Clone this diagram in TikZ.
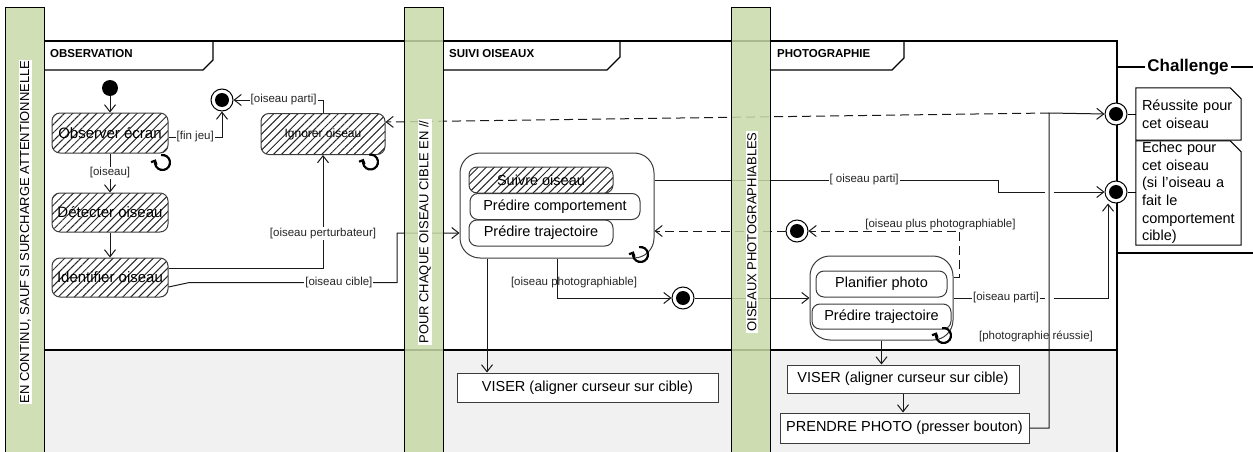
\documentclass[tikz,border=0pt]{standalone}
\usepackage{fontspec}
\setmainfont{Liberation Sans}
\usetikzlibrary{arrows.meta, patterns.meta}
\definecolor{lanegreen}{RGB}{200,217,168}
\definecolor{swimgrey}{RGB}{241,241,241}
\definecolor{boxline}{RGB}{60,60,60}

\begin{document}
\begin{tikzpicture}[x=1pt, y=-1pt]
    % Define styles
    \tikzset{
        lanebar/.style={draw, line width=1pt, fill=lanegreen, fill opacity=0.85, minimum width=38.5pt, minimum height=452pt, inner sep=0pt},
        lanelbl/.style={fill=white, rotate=90, inner sep=1pt, font=\fontsize{13}{15}\selectfont},
        hdrlbl/.style={anchor=west, inner sep=0pt, font=\fontsize{11.5}{13}\selectfont\bfseries},
        framelines/.style={line width=1.2pt},
        actbox/.style={draw=boxline, line width=1pt, rounded corners=8pt, fill=white, inner sep=0pt, font=\fontsize{14.5}{17}\selectfont},
        hatchbox/.style={actbox, pattern={Lines[angle=45, distance=5.7pt, line width=1pt]}, pattern color=black!85},
        compbox/.style={draw=boxline, line width=1pt, rounded corners=20pt, inner sep=0pt},
        plainbox/.style={draw=boxline, line width=1pt, fill=white, inner sep=0pt, font=\fontsize{14.5}{17}\selectfont},
        startdot/.style={circle, fill=black, minimum size=16pt, inner sep=0pt},
        enddot/.style={circle, draw, line width=1pt, fill=white, minimum size=22pt, inner sep=0pt, path picture={\fill[black] (path picture bounding box.center) circle (7pt);}},
        notebox/.style={inner xsep=6pt, inner ysep=0pt, text width=93pt, align=left, minimum height=#1, font=\fontsize{14.5}{17.6}\selectfont},
        flowarrow/.style={draw=black!90, line width=1pt, -{Straight Barb[length=7pt, width=11pt]}},
        guardlbl/.style={fill=white, inner sep=1pt, text=black!85, font=\fontsize{11.5}{13}\selectfont},
        loopicon/.pic={\draw[line width=2.2pt, -{Straight Barb[length=3pt, width=6pt]}] (100:7.5pt) arc (100:-205:7.5pt);}
    }
    \useasboundingbox (0,0) rectangle (1253,452);

    % Swimlane frames
    \fill[swimgrey] (44,350) rectangle (1117,460);
    \draw[framelines] (44,41) -- (1117,41) -- (1117,460);
    \draw[framelines] (44,350) -- (1117,350);
    \draw[framelines] (44,70) -- (203,70) -- (213,60) -- (213,41);
    \draw[framelines] (443,70) -- (607,70) -- (620,57) -- (620,41);
    \draw[framelines] (770,70) -- (892,70) -- (904,58) -- (904,41);
    \node[hdrlbl] (hdr_obs) at (50,54) {OBSERVATION};
    \node[hdrlbl] (hdr_suivi) at (449,54) {SUIVI OISEAUX};
    \node[hdrlbl] (hdr_photo) at (777,54) {PHOTOGRAPHIE};

    % Challenge area
    \draw[framelines] (1117,67) -- (1253,67);
    \draw[framelines] (1117,253) -- (1253,253);
    \node[fill=white, inner sep=2pt, font=\fontsize{17}{20}\selectfont\bfseries] (chal_title) at (1188,67) {Challenge};

    % Observation
    \node[startdot] (obs_start) at (110,88) {};
    \node[hatchbox, minimum width=116pt, minimum height=40pt, font=\fontsize{15}{17}\selectfont] (obs_ecran) at (110,133) {Observer écran};
    \node[hatchbox, minimum width=116pt, minimum height=39pt, font=\fontsize{15}{17}\selectfont] (obs_detect) at (110,212.5) {Détecter oiseau};
    \node[hatchbox, minimum width=116pt, minimum height=39pt, font=\fontsize{15}{17}\selectfont] (obs_ident) at (110,277.5) {Identifier oiseau};
    \node[enddot] (obs_end) at (222,100) {};
    \node[hatchbox, minimum width=124pt, minimum height=41pt, font=\fontsize{12}{14}\selectfont] (obs_ignore) at (323,134) {Ignorer oiseau};

    % Suivi oiseaux
    \node[compbox, minimum width=194pt, minimum height=105pt] (suivi_comp) at (557,205.5) {};
    \node[hatchbox, minimum width=144pt, minimum height=26pt] (suivi_oiseau) at (541,180) {Suivre oiseau};
    \node[actbox, minimum width=170pt, minimum height=26pt] (suivi_comport) at (555,206.5) {Prédire comportement};
    \node[actbox, minimum width=144pt, minimum height=26pt] (suivi_traj) at (541,233) {Prédire trajectoire};
    \node[enddot] (suivi_end) at (683,298) {};
    \node[plainbox, minimum width=261pt, minimum height=29pt] (viser_suivi) at (587.5,387.5) {VISER (aligner curseur sur cible)};

    % Photographie
    \node[compbox, minimum width=143pt, minimum height=84pt] (photo_comp) at (881.5,298) {};
    \node[actbox, minimum width=131pt, minimum height=26pt] (photo_plan) at (881.5,284) {Planifier photo};
    \node[actbox, minimum width=139pt, minimum height=25pt] (photo_traj) at (881.5,316.5) {Prédire trajectoire};
    \node[enddot] (photo_end) at (797,231) {};
    \node[plainbox, minimum width=232pt, minimum height=28pt] (viser_photo) at (903,379) {VISER (aligner curseur sur cible)};
    \node[plainbox, minimum width=249pt, minimum height=30pt] (photo_prendre) at (904.5,428) {PRENDRE PHOTO (presser bouton)};

    % Challenge outcomes
    \node[enddot] (chal_ok) at (1116,114) {};
    \node[enddot] (chal_ko) at (1116,192) {};
    \node[notebox=52pt] (note_ok) at (1188.5,114) {Réussite pour\\cet oiseau};
    \node[notebox=104pt] (note_ko) at (1188.5,193) {Echec pour\\cet oiseau\\(si l’oiseau a\\fait le\\comportement\\cible)};
    \draw[line width=1pt] (note_ok.north west) -- ([xshift=-11pt]note_ok.north east) -- ([yshift=-11pt]note_ok.north east) -- (note_ok.south east) -- (note_ok.south west) -- cycle;
    \draw[line width=1pt] (note_ko.north west) -- ([xshift=-11pt]note_ko.north east) -- ([yshift=-11pt]note_ko.north east) -- (note_ko.south east) -- (note_ko.south west) -- cycle;
    \coordinate (ok_jct) at (1049,113);

    % Transitions
    \draw[flowarrow] (obs_start) -- (obs_ecran);
    \draw[flowarrow] (obs_ecran) -- node[guardlbl] {[oiseau]} (obs_detect);
    \draw[flowarrow] (obs_detect) -- (obs_ident);
    \draw[flowarrow] ([yshift=-4pt]obs_ecran.east) -| node[guardlbl, pos=0.25] {[fin jeu]} (obs_end.south);
    \draw[flowarrow] (obs_ignore.north) |- node[guardlbl, pos=0.72] {[oiseau parti]} (obs_end.east);
    \draw[flowarrow] ([yshift=9pt]obs_ident.east) -| node[guardlbl, pos=0.655] {[oiseau perturbateur]} (obs_ignore.south);
    \draw[flowarrow] ([yshift=-9.5pt]obs_ident.east) -- ++(21,-4.5) -- node[guardlbl, pos=0.72] {[oiseau cible]} (397,282.5) |- (suivi_comp.west |- suivi_traj);
    \draw[flowarrow, dash pattern=on 9pt off 5pt] (ok_jct) -- ([yshift=12pt]obs_ignore.east);

    \draw[flowarrow] (suivi_comp.east |- suivi_oiseau) -- node[guardlbl, pos=0.61] {[ oiseau parti]} (998,180) |- (chal_ko.west);
    \draw[flowarrow] (suivi_comp.south) |- node[guardlbl, fill=none, pos=0.31, xshift=17pt] {[oiseau photographiable]} (suivi_end.west);
    \draw[flowarrow] (suivi_end) -- (photo_comp);
    \draw[flowarrow] ([xshift=-70pt]suivi_comp.south) -- ([xshift=-70pt]suivi_comp.south |- viser_suivi.north);

    \draw[flowarrow] (photo_comp.east) -| node[guardlbl, pos=0.17] {[oiseau parti]} ([xshift=-8pt]chal_ko.south);
    \draw[flowarrow, dash pattern=on 9pt off 5pt] ([yshift=21pt]photo_comp.east) -- ++(6,0) |- node[guardlbl, fill=none, pos=0.563, above] {[oiseau plus photographiable]} (photo_end.east);
    \draw[flowarrow, dash pattern=on 9pt off 5pt] (photo_end) -- (suivi_comp.east |- photo_end);
    \draw[flowarrow] (photo_comp.south) -- (photo_comp.south |- viser_photo.north);
    \draw[flowarrow] (viser_photo.south) -- (viser_photo.south |- photo_prendre.north);

    % line jumps, then the success path
    \draw[white, line width=9pt] (1049,189) -- (1049,196) (1049,294) -- (1049,301);
    \draw[flowarrow] (photo_prendre.east) -| node[guardlbl, fill=none, pos=0.646, xshift=-13pt] {[photographie réussie]} (ok_jct) -- (chal_ok.west);
    \draw[line width=1pt] (chal_ok) -- (note_ok.west |- chal_ok);
    \draw[line width=1pt] (chal_ko) -- (note_ko.west |- chal_ko);

    % Loop icons
    \pic at ([shift={(-6,9)}]obs_ecran.south east) {loopicon};
    \pic at ([shift={(-15,7)}]obs_ignore.south east) {loopicon};
    \pic at ([shift={(-14,-4)}]suivi_comp.south east) {loopicon};
    \pic at ([shift={(-10,-5)}]photo_comp.south east) {loopicon};

    % Lanes
    \node[lanebar, minimum width=39pt] (lane_obs) at (24.5,234) {};
    \node[lanebar] (lane_suivi) at (424,234) {};
    \node[lanebar] (lane_photo) at (751,234) {};
    \node[lanelbl] (lane_obs_lbl) at (25.5,232) {EN CONTINU, SAUF SI SURCHARGE ATTENTIONNELLE};
    \node[lanelbl] (lane_suivi_lbl) at (425,232) {POUR CHAQUE OISEAU CIBLE EN //};
    \node[lanelbl] (lane_photo_lbl) at (752,232) {OISEAUX PHOTOGRAPHIABLES};
\end{tikzpicture}
\end{document}
